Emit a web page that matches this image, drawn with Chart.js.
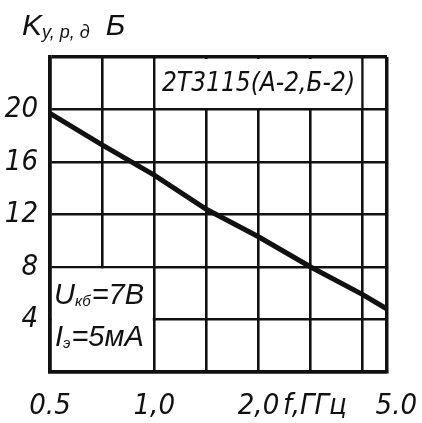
<!DOCTYPE html>
<html>
<head>
<meta charset="utf-8">
<script src="https://cdn.jsdelivr.net/npm/chart.js@4"></script>
<style>
  html, body { margin: 0; padding: 0; background: #fff; }
  #wrap { width: 422px; height: 423px; }
</style>
</head>
<body>
<div id="wrap"><canvas id="c" width="422" height="423"></canvas></div>
<script>
// ---- data ----
const freqGHz = [0.5, 0.707, 1.0, 1.414, 2.0, 2.83, 4.0, 4.7];
const gainDb  = [19.7, 17.3, 15.0, 12.4, 10.3, 8.0, 5.9, 4.8];

// vertical grid lines (half-octave steps) and right edge of the grid
const xGridValues = [0.5, 0.707, 1.0, 1.414, 2.0, 2.83, 4.0, 4.7];
const xMin = 0.5, xMax = 4.7;
// x tick labels (value -> text)
const xLabelValues = [0.5, 1.0, 2.0, 2.91, 5.0];
const xLabelTexts  = ['0.5', '1,0', '2,0', 'f,ГГц', '5.0'];

const yMin = 0, yMax = 24, yStep = 4;
const yLabelValues = [4, 8, 12, 16, 20];

const yTitleParts = ['K', 'у, р, д   ', 'Б'];
const deviceLabel = '2Т3115(А-2,Б-2)';
const condLine1 = ['U', 'кб', '=7В'];
const condLine2 = ['I', 'э', '=5мА'];

const FONT = "'Liberation Sans Narrow', 'DejaVu Sans Condensed', 'Liberation Sans', sans-serif";
const FONT2 = "'Liberation Sans', 'DejaVu Sans', sans-serif";
const INK = '#111';

function drawParts(ctx, x, y, parts, bigSize, smallSize, family, subDy) {
  let cx = x;
  parts.forEach((p, i) => {
    const sub = i % 2 === 1;
    ctx.font = 'italic ' + (sub ? smallSize : bigSize) + 'px ' + family;
    ctx.fillText(p, cx, y + (sub ? subDy : 0));
    cx += ctx.measureText(p).width + (sub ? 1 : 0);
  });
}

const annotations = {
  id: 'annotations',
  beforeDatasetsDraw(chart) {
    const ctx = chart.ctx;
    const xs = chart.scales.x, ys = chart.scales.y;
    ctx.save();
    // white boxes that interrupt the grid
    ctx.fillStyle = '#fff';
    let x1 = xs.getPixelForValue(1.0), x2 = xs.getPixelForValue(4.0);
    let y1 = ys.getPixelForValue(24), y2 = ys.getPixelForValue(20);
    ctx.fillRect(x1 + 1.5, y1 + 2, x2 - x1 - 3, y2 - y1 - 3.5);
    let bx1 = xs.getPixelForValue(0.5), bx2 = xs.getPixelForValue(1.0);
    let by1 = ys.getPixelForValue(8), by2 = ys.getPixelForValue(0);
    ctx.fillRect(bx1 + 2, by1 + 1.5, bx2 - bx1 - 3.5, by2 - by1 - 3.5);

    ctx.fillStyle = INK;
    ctx.textBaseline = 'middle';
    // device label
    ctx.textAlign = 'center';
    ctx.font = 'italic 26px ' + FONT;
    ctx.fillText(deviceLabel, (x1 + x2) / 2, (y1 + y2) / 2 + 1);

    // conditions
    ctx.textAlign = 'left';
    const cy = (by1 + by2) / 2;
    drawParts(ctx, bx1 + 4, cy - 24, condLine1, 29, 15, FONT2, 6);
    drawParts(ctx, bx1 + 5, cy + 18, condLine2, 29, 15, FONT2, 6);

    // y axis title at top-left
    ctx.textBaseline = 'alphabetic';
    const tx = chart.chartArea.left - 28;
    drawParts(ctx, tx, 35, yTitleParts, 30, 18, FONT2, 3);
    ctx.restore();
  }
};

new Chart(document.getElementById('c'), {
  type: 'line',
  data: {
    datasets: [{
      data: freqGHz.map((f, i) => ({ x: f, y: gainDb[i] })),
      borderColor: INK,
      borderWidth: 5,
      pointRadius: 0,
      tension: 0,
      fill: false
    }]
  },
  options: {
    responsive: false,
    animation: false,
    devicePixelRatio: 1,
    layout: { padding: { top: 57, right: 35, left: 0, bottom: 0 } },
    plugins: { legend: { display: false }, tooltip: { enabled: false }, title: { display: false } },
    scales: {
      x: {
        type: 'logarithmic',
        min: xMin, max: xMax,
        afterBuildTicks(scale) {
          const vals = Array.from(new Set([...xGridValues, ...xLabelValues])).sort((a, b) => a - b);
          scale.ticks = vals.map(v => ({ value: v }));
        },
        afterFit(scale) { scale.height = 51; scale.paddingLeft = 0; scale.paddingRight = 0; },
        grid: {
          drawTicks: false,
          color: ctx => (ctx.tick && xGridValues.includes(ctx.tick.value)) ? INK : 'rgba(0,0,0,0)',
          lineWidth: ctx => (ctx.tick && ctx.tick.value === xMax) ? 3.5 : 2.6
        },
        border: { color: INK, width: 3.5 },
        ticks: {
          autoSkip: false, maxRotation: 0, minRotation: 0,
          padding: 17,
          color: INK,
          font: { family: FONT, size: 29, style: 'italic' },
          callback: (v) => {
            const i = xLabelValues.indexOf(v);
            return i >= 0 ? xLabelTexts[i] : '';
          }
        }
      },
      y: {
        type: 'linear',
        min: yMin, max: yMax,
        afterFit(scale) { scale.width = 50; scale.paddingTop = 0; scale.paddingBottom = 0; },
        grid: {
          drawTicks: false,
          color: INK,
          lineWidth: ctx => (ctx.tick && ctx.tick.value === yMax) ? 3.5 : 2.6
        },
        border: { color: INK, width: 3.5 },
        ticks: {
          stepSize: yStep,
          padding: 12,
          color: INK,
          font: { family: FONT, size: 29, style: 'italic' },
          callback: (v) => yLabelValues.includes(v) ? String(v) : ''
        }
      }
    }
  },
  plugins: [annotations]
});
</script>
</body>
</html>
